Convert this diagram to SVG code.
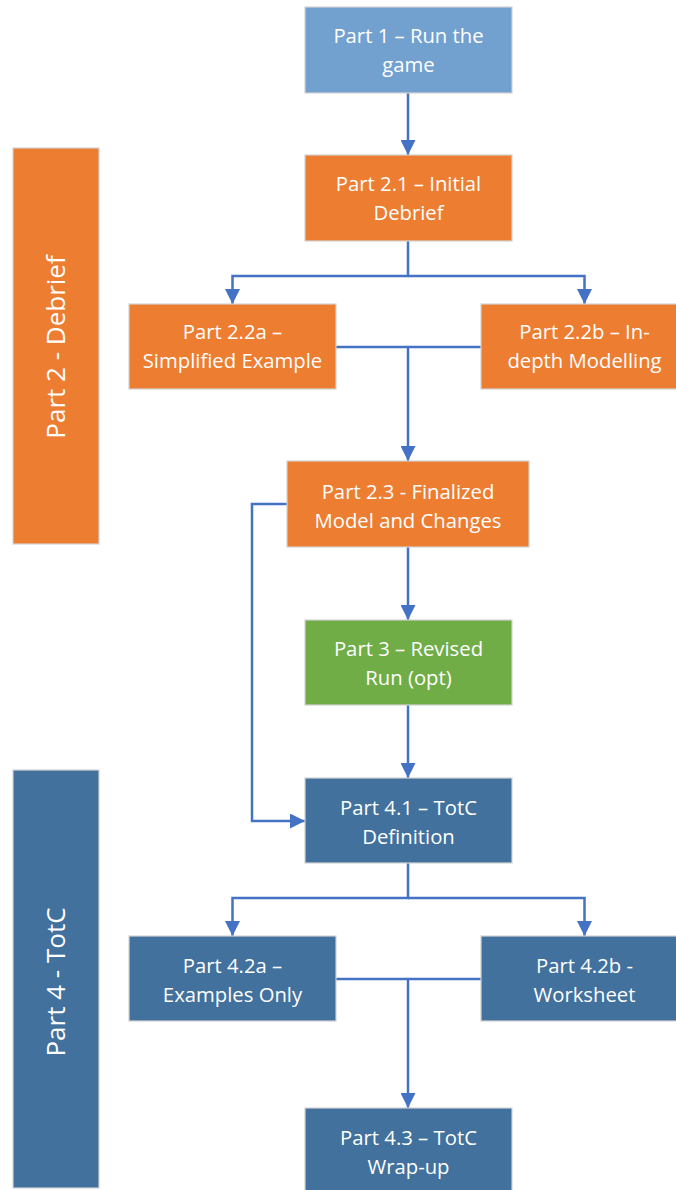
<svg xmlns="http://www.w3.org/2000/svg" width="676" height="1190" viewBox="0 0 676 1190">
<style>
.box{stroke:#D3D3D3;stroke-width:1.2}
.lb{fill:#72A0CF}.or{fill:#ED7D31}.gr{fill:#70AD47}.db{fill:#41719C}
text{font-family:"Open Sans","Liberation Sans",sans-serif;fill:#FFFFFF;text-anchor:middle}
.t{font-size:20.3px}
.side{font-size:26px}
.c{fill:none;stroke:#4472C4;stroke-width:2.5}
</style>
<defs>
<marker id="ah" viewBox="0 0 10 10" refX="10" refY="5" markerWidth="6" markerHeight="6" markerUnits="strokeWidth" orient="auto">
<path d="M0,0 L10,5 L0,10 Z" fill="#4472C4"/>
</marker>
</defs>
<rect width="676" height="1190" fill="#FFFFFF"/>
<g id="side2"><rect class="box or" x="13" y="148" width="86" height="396"/><text class="side" transform="translate(65,347) rotate(-90)">Part 2 - Debrief</text></g>
<g id="side4"><rect class="box db" x="13" y="770" width="86" height="418"/><text class="side" transform="translate(65,982) rotate(-90)">Part 4 - TotC</text></g>
<g id="connectors">
<path class="c" d="M408,93 V155" marker-end="url(#ah)"/>
<path class="c" d="M408,241 V276 H232.5 V304" marker-end="url(#ah)"/>
<path class="c" d="M408,276 H584.5 V304" marker-end="url(#ah)"/>
<path class="c" d="M336,347 H481"/>
<path class="c" d="M408,347 V461" marker-end="url(#ah)"/>
<path class="c" d="M408,547 V620" marker-end="url(#ah)"/>
<path class="c" d="M408,705 V778" marker-end="url(#ah)"/>
<path class="c" d="M287,504 H252 V821 H305" marker-end="url(#ah)"/>
<path class="c" d="M408,863 V898 H232.5 V936" marker-end="url(#ah)"/>
<path class="c" d="M408,898 H584.5 V936" marker-end="url(#ah)"/>
<path class="c" d="M336,979 H481"/>
<path class="c" d="M408,979 V1108" marker-end="url(#ah)"/>
</g>
<g id="n1"><rect class="box lb" x="305" y="7" width="207" height="86"/><text class="t" x="408.5" y="43">Part 1 – Run the</text><text class="t" x="408.5" y="72">game</text></g>
<g id="n21"><rect class="box or" x="305" y="155" width="207" height="86"/><text class="t" x="408.5" y="191">Part 2.1 – Initial</text><text class="t" x="408.5" y="220">Debrief</text></g>
<g id="n22a"><rect class="box or" x="129" y="304" width="207" height="85"/><text class="t" x="232.5" y="339">Part 2.2a –</text><text class="t" x="232.5" y="368">Simplified Example</text></g>
<g id="n22b"><rect class="box or" x="481" y="304" width="207" height="85"/><text class="t" x="584.5" y="339">Part 2.2b – In-</text><text class="t" x="584.5" y="368">depth Modelling</text></g>
<g id="n23"><rect class="box or" x="287" y="461" width="242" height="86"/><text class="t" x="408" y="499">Part 2.3 - Finalized</text><text class="t" x="408" y="528">Model and Changes</text></g>
<g id="n3"><rect class="box gr" x="305" y="620" width="207" height="85"/><text class="t" x="408.5" y="656">Part 3 – Revised</text><text class="t" x="408.5" y="685">Run (opt)</text></g>
<g id="n41"><rect class="box db" x="305" y="778" width="207" height="85"/><text class="t" x="408.5" y="815">Part 4.1 – TotC</text><text class="t" x="408.5" y="844">Definition</text></g>
<g id="n42a"><rect class="box db" x="129" y="936" width="207" height="85"/><text class="t" x="232.5" y="973">Part 4.2a –</text><text class="t" x="232.5" y="1002">Examples Only</text></g>
<g id="n42b"><rect class="box db" x="481" y="936" width="207" height="85"/><text class="t" x="584.5" y="973">Part 4.2b -</text><text class="t" x="584.5" y="1002">Worksheet</text></g>
<g id="n43"><rect class="box db" x="305" y="1108" width="207" height="86"/><text class="t" x="408.5" y="1145">Part 4.3 – TotC</text><text class="t" x="408.5" y="1174">Wrap-up</text></g>
</svg>
